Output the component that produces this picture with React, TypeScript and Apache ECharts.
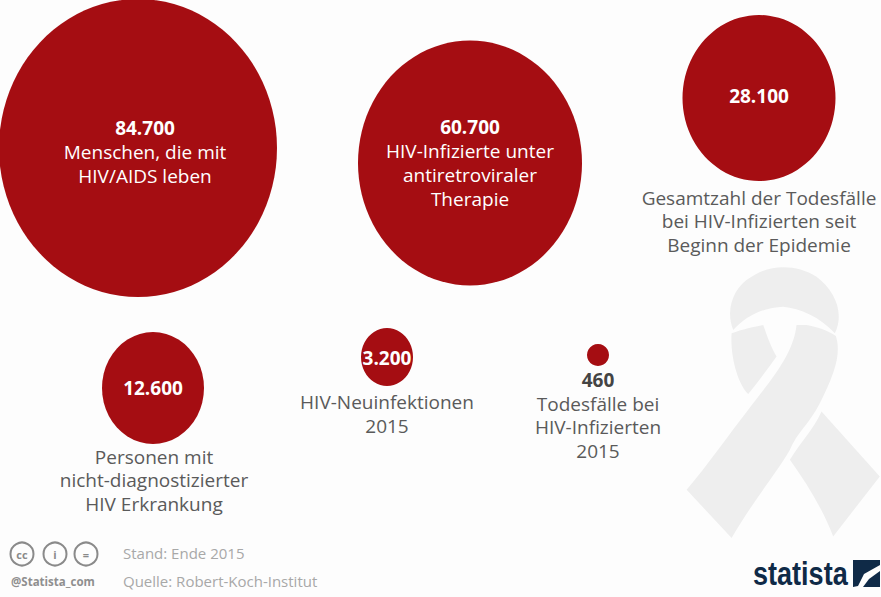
import React, { useEffect, useRef } from "react";
import * as echarts from "echarts";

const WIDTH = 881;
const HEIGHT = 597;
const FONT = "'Open Sans', sans-serif";
const RED = "#a50d12";
const TEXT = "#5a5a5a";
const FAINT = "#a8a8a8";
const FONT_SIZE = 19;

const values = [84700, 60700, 28100, 12600, 3200, 460];
const valueLabels = ["84.700", "60.700", "28.100", "12.600", "3.200", "460"];
const insideTexts = [
  ["Menschen, die mit", "HIV/AIDS leben"],
  ["HIV-Infizierte unter", "antiretroviraler", "Therapie"],
  [], [], [], [],
];
const centersX = [138, 470, 759, 153, 387, 598];
const centersY = [148, 163, 98, 388, 357, 355];
const widths = [278, 224, 153, 102, 52, 22];
const heights = [298, 245, 166, 112, 58, 22];
const labelShiftX = [7, 0, 0, 0, 0, 0];
const labelShiftY = [4, 0, -2, 0, 1, 0];

const captions = [
  { lines: "Gesamtzahl der Todesfälle\nbei HIV-Infizierten seit\nBeginn der Epidemie", x: 759, y: 221 },
  { lines: "Personen mit\nnicht-diagnostizierter\nHIV Erkrankung", x: 154, y: 480 },
  { lines: "HIV-Neuinfektionen\n2015", x: 387, y: 414 },
  { lines: "Todesfälle bei\nHIV-Infizierten\n2015", x: 598, y: 427 },
];

const footer = ["Stand: Ende 2015", "Quelle: Robert-Koch-Institut"];

const RIBBON =
  "M160 180C135 120 160 50 215 20C270 -18 350 -18 410 20C465 60 495 130 465 190C420 140 360 115 310 110C250 112 195 140 160 180Z" +
  "M155 190C185 178 225 170 250 165C262 200 275 235 290 260C265 295 235 335 205 372C175 345 150 260 155 190Z" +
  "M380 165C410 170 445 182 468 198C485 250 465 310 420 400C390 460 350 490 330 540C290 610 215 700 155 805L20 660C80 590 150 490 205 420C260 345 340 260 350 165Z" +
  "M425 425L600 620L460 800C430 720 380 640 330 570C360 520 400 480 425 425Z";

export default function App() {
  const ref = useRef<HTMLDivElement>(null);
  useEffect(() => {
    document.body.style.margin = "0";
    document.body.style.background = "#fdfdfd";
    echarts.graphic.registerShape("ribbon", echarts.graphic.extendPath(RIBBON, {}) as any);
    const chart = echarts.init(ref.current!, null, { renderer: "svg" });
    const caption = (c: typeof captions[number]) => ({
      type: "text", x: c.x, y: c.y, z: 5,
      style: { text: c.lines, fill: TEXT, font: `${FONT_SIZE}px ${FONT}`, lineHeight: 23.5, align: "center", verticalAlign: "middle" },
    });
    const ccIcon = (x: number, sym: string) => ({
      type: "group", x, y: 554, children: [
        { type: "circle", shape: { cx: 0, cy: 0, r: 11.5 }, style: { fill: "none", stroke: "#8a8a8a", lineWidth: 2 } },
        { type: "text", style: { x: 0, y: 0, text: sym, fill: "#8a8a8a", font: `bold 11px ${FONT}`, align: "center", verticalAlign: "middle" } },
      ],
    });
    chart.setOption({
      animation: false,
      backgroundColor: "#fdfdfd",
      grid: { left: 0, right: 0, top: 0, bottom: 0 },
      xAxis: { type: "value", min: 0, max: WIDTH, show: false },
      yAxis: { type: "value", min: 0, max: HEIGHT, inverse: true, show: false },
      series: [{
        type: "scatter",
        z: 3,
        symbol: "circle",
        silent: true,
        data: values.map((v, i) => ({
          value: [centersX[i], centersY[i], v],
          symbolSize: [widths[i], heights[i]],
          itemStyle: { color: RED, opacity: 1 },
          label: i === 5
            ? {
                show: true, position: "bottom", distance: 4,
                formatter: valueLabels[i],
                color: "#444444", fontFamily: FONT, fontSize: FONT_SIZE, fontWeight: "bold",
              }
            : {
                show: true, position: "inside", offset: [labelShiftX[i], labelShiftY[i]],
                formatter: [`{v|${valueLabels[i]}}`, ...insideTexts[i].map((t) => `{t|${t}}`)].join("\n"),
                rich: {
                  v: { color: "#fff", fontFamily: FONT, fontSize: FONT_SIZE, fontWeight: "bold", lineHeight: 24 },
                  t: { color: "#fff", fontFamily: FONT, fontSize: FONT_SIZE, lineHeight: 24 },
                },
              },
        })),
      }],
      graphic: [
        { type: "ribbon", x: 680, y: 270, scaleX: 1 / 3, scaleY: 1 / 3, z: 1, style: { fill: "#eeeeee" } },
        ...captions.map(caption),
        ccIcon(22, "cc"),
        ccIcon(55, "i"),
        ccIcon(86, "="),
        { type: "text", x: 11, y: 581, style: { text: "@Statista_com", fill: "#8f8f8f", font: `bold 11.5px ${FONT}`, verticalAlign: "middle" } },
        { type: "text", x: 123, y: 553, style: { text: footer[0], fill: FAINT, font: `15px ${FONT}`, verticalAlign: "middle" } },
        { type: "text", x: 123, y: 581, style: { text: footer[1], fill: FAINT, font: `15px ${FONT}`, verticalAlign: "middle" } },
        { type: "text", x: 753, y: 574, scaleX: 0.82, style: { text: "statista", fill: "#0f2a47", font: `bold 33px 'Liberation Sans', sans-serif`, verticalAlign: "middle" } },
        { type: "rect", shape: { x: 853, y: 560, width: 27, height: 27 }, style: { fill: "#0f2a47" } },
        { type: "polygon", shape: { points: [[853, 587], [858, 586], [864, 574], [880, 565], [880, 571], [869, 579], [863, 587]] }, style: { fill: "#fdfdfd" } },
      ],
    });
    return () => chart.dispose();
  }, []);
  return <div ref={ref} style={{ width: WIDTH, height: HEIGHT }} />;
}
